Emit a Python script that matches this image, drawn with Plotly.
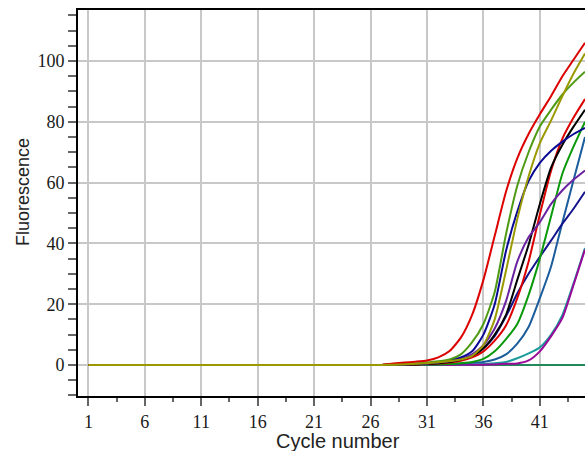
import plotly.graph_objects as go

# Amplification run: fluorescence per cycle for each well
cycles = list(range(1, 46))
tail_start = 27  # readings before this cycle are flat at 0

red_a = [0, 0.5, 0.8, 1.1, 1.5, 2.5, 4.6, 9, 16.5, 28, 42.5, 57, 68, 76, 82.5, 88.5, 95, 100.5, 106]
green_a = [0, 0.1, 0.3, 0.5, 0.8, 1.2, 1.8, 3.5, 7.5, 13.5, 24, 43, 59, 70, 78.5, 84, 89, 93, 96.5]
olive = [0, 0.1, 0.2, 0.4, 0.6, 0.9, 1.3, 1.8, 3, 6.5, 15, 31, 48, 62, 73, 80.5, 88.5, 96, 102.5]
navy_a = [0, 0.1, 0.2, 0.4, 0.6, 1, 1.6, 2.5, 4.5, 10, 20, 37.5, 50.5, 60.5, 66.5, 70.5, 73.5, 76, 78]
violet = [0, 0.1, 0.2, 0.3, 0.5, 0.8, 1.2, 2, 3.5, 6.5, 12, 21, 34, 42, 47, 53, 57.5, 61, 64]
black = [0, 0.1, 0.1, 0.2, 0.4, 0.6, 1, 1.8, 3, 5.5, 10, 16.5, 28, 39.5, 53, 65, 72.5, 78.5, 84]
red_b = [0, 0.1, 0.1, 0.2, 0.3, 0.5, 0.8, 1.4, 2.5, 4.5, 8, 13, 22, 34, 49.5, 64, 74.5, 81.5, 87.5]
green_b = [0, 0, 0.1, 0.1, 0.2, 0.2, 0.3, 0.6, 1, 2, 4.5, 8.5, 13.5, 23, 35, 49, 63, 72, 80]
steel = [0, 0, 0, 0.1, 0.1, 0.2, 0.3, 0.5, 0.7, 1, 1.8, 3.5, 7, 12.5, 22, 32.5, 47, 61, 75]
navy_b = [0, 0, 0.1, 0.2, 0.4, 0.7, 1.1, 1.8, 3, 5.5, 9.5, 16, 23.5, 30, 35.6, 41, 46.5, 51.5, 57]
teal = [0, 0, 0, 0, 0, 0, 0.1, 0.2, 0.2, 0.3, 0.6, 1, 2.2, 3.8, 5.8, 10, 16.5, 27, 38.5]
magenta = [0, 0, 0, 0, 0, 0, 0, 0.1, 0.1, 0.1, 0.2, 0.4, 0.5, 1.5, 4.5, 9.5, 15.5, 26.5, 38]
no_template = [0] * 19

x_ticks = [1, 6, 11, 16, 21, 26, 31, 36, 41]


def full_series(tail):
    return [0.0] * (tail_start - 1) + list(tail)


# drawing order: later traces sit on top
wells = [
    ("NTC", no_template, "#23895a"),
    ("A8", teal, "#1c9c9c"),
    ("A7", magenta, "#990a99"),
    ("A6", steel, "#1a5c9c"),
    ("B3", navy_b, "#14148c"),
    ("B4", green_b, "#0a990a"),
    ("A5", red_b, "#dc0000"),
    ("B5", black, "#000000"),
    ("A4", violet, "#6a22a0"),
    ("A3", navy_a, "#0a0a94"),
    ("A2", green_a, "#4e9a14"),
    ("A1", red_a, "#dc0000"),
    ("B1", olive, "#9a9a00"),
]

fig = go.Figure()
for name, tail, color in wells:
    fig.add_trace(go.Scatter(
        x=cycles, y=full_series(tail), name=name, mode="lines",
        line=dict(color=color, width=2, shape="spline", smoothing=0.6),
        hoverinfo="x+y+name",
    ))

tick_font = dict(family="Liberation Serif, Times New Roman, serif", size=18, color="#1a1a1a")
sans = "Liberation Sans, Arial, sans-serif"

fig.update_layout(
    width=585, height=451, autosize=False,
    margin=dict(l=78, r=0, t=10, b=55),
    paper_bgcolor="white", plot_bgcolor="white",
    showlegend=False,
    xaxis=dict(
        range=[0.08, 45.0], tickmode="array", tickvals=x_ticks,
        ticks="outside", ticklen=8, tickwidth=2, tickcolor="#666666",
        showline=True, linecolor="black", linewidth=2, mirror=True,
        showgrid=True, gridcolor="#c8c8c8", gridwidth=2, zeroline=False,
        tickfont=tick_font,
        minor=dict(tick0=1, dtick=2.5, ticks="outside", ticklen=4, tickwidth=2,
                   tickcolor="#666666", showgrid=False),
    ),
    yaxis=dict(
        range=[-10.2, 116.8], tick0=0, dtick=20,
        ticks="outside", ticklen=8, tickwidth=2, tickcolor="#666666",
        showline=True, linecolor="black", linewidth=2,
        showgrid=True, gridcolor="#c8c8c8", gridwidth=2, zeroline=False,
        tickfont=tick_font,
        minor=dict(tick0=0, dtick=5, ticks="outside", ticklen=8, tickwidth=2,
                   tickcolor="#666666", showgrid=False),
    ),
    annotations=[
        dict(text="Cycle number", xref="paper", yref="paper", x=0.513, y=-0.117,
             xanchor="center", yanchor="middle", showarrow=False,
             font=dict(family=sans, size=20, color="#222222")),
        dict(text="Fluorescence", xref="paper", yref="paper", x=-0.1085, y=0.5285,
             xanchor="center", yanchor="middle", showarrow=False, textangle=-90,
             font=dict(family=sans, size=18, color="#222222")),
    ],
)

fig.write_html("out.html")
